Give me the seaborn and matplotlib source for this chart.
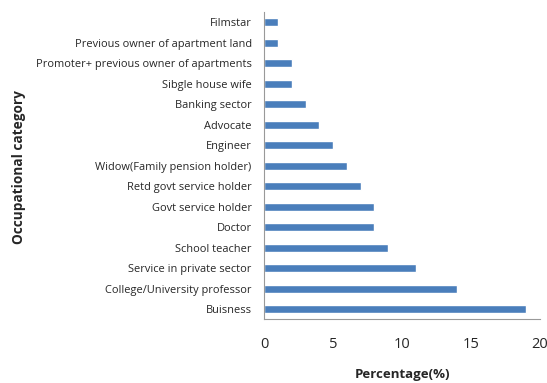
import matplotlib
matplotlib.use("Agg")
import matplotlib.pyplot as plt
import seaborn as sns
import pandas as pd

categories = ["Filmstar", "Previous owner of apartment land",
              "Promoter+ previous owner of apartments", "Sibgle house wife",
              "Banking sector", "Advocate", "Engineer",
              "Widow(Family pension holder)", "Retd govt service holder",
              "Govt service holder", "Doctor", "School teacher",
              "Service in private sector", "College/University professor",
              "Buisness"]
values = [1, 1, 2, 2, 3, 4, 5, 6, 7, 8, 8, 9, 11, 14, 19]
xticks = [0, 5, 10, 15, 20]

sns.set_theme(style="white")
plt.rcParams['font.family'] = ['Open Sans', 'DejaVu Sans']

df = pd.DataFrame({"cat": categories, "val": values})
fig = plt.figure(figsize=(5.47, 3.83), dpi=100)
ax = fig.add_axes([0.483, 0.166, 0.504, 0.803])
sns.barplot(data=df, x="val", y="cat", orient="h", color="#4A7EBB",
            saturation=1, width=0.4, ax=ax)
ax.set_xlim(0, 20)
ax.set_xticks(xticks)
ax.set_xticklabels([str(t) for t in xticks], fontsize=10.5)
ax.tick_params(axis="x", direction="out", length=4, color="#888888", pad=9)
ax.tick_params(axis="y", length=0, labelsize=7.9, pad=9)
for s in ["top", "right"]:
    ax.spines[s].set_visible(False)
for s in ["left", "bottom"]:
    ax.spines[s].set_color("#999999")
    ax.spines[s].set_linewidth(0.8)
ax.set_xlabel("Percentage(%)", fontsize=9.5, fontweight="bold", labelpad=11)
ax.set_ylabel("")
fig.text(0.035, 0.565, "Occupational category", rotation=90, fontsize=9.8,
         fontweight="bold", ha="center", va="center")
fig.savefig("out.png", dpi=100)
